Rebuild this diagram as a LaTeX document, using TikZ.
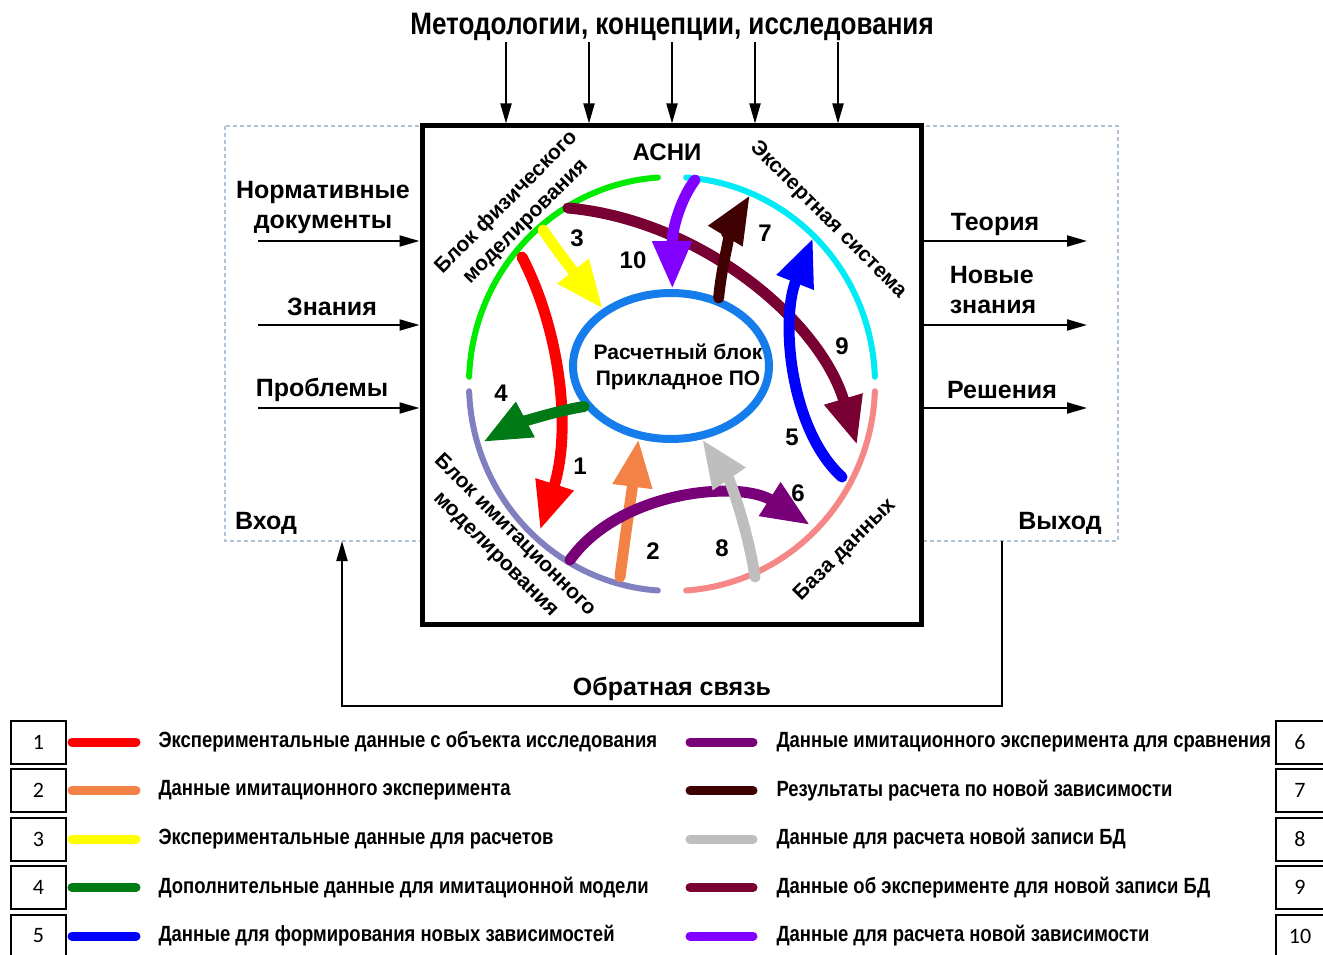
\documentclass[tikz,border=0pt]{standalone}
\usepackage{fontspec}
\setmainfont{Liberation Sans}
\newfontfamily\narrowfont[FakeStretch=0.84]{Liberation Sans}
\newfontfamily\boxfont{Carlito}
\usepackage{xcolor}
\usepackage{tikz}
\usetikzlibrary{arrows.meta,shapes.geometric}

\definecolor{c1}{RGB}{255,0,0}
\definecolor{c2}{RGB}{242,130,70}
\definecolor{c3}{RGB}{255,255,0}
\definecolor{c4}{RGB}{0,122,20}
\definecolor{c5}{RGB}{0,0,255}
\definecolor{c6}{RGB}{120,0,120}
\definecolor{c7}{RGB}{62,0,0}
\definecolor{c8}{RGB}{190,190,190}
\definecolor{c9}{RGB}{120,0,50}
\definecolor{c10}{RGB}{130,0,255}
\definecolor{phys}{RGB}{0,235,0}
\definecolor{expert}{RGB}{0,235,245}
\definecolor{imit}{RGB}{128,128,192}
\definecolor{bd}{RGB}{245,135,135}
\definecolor{calcblue}{RGB}{20,125,235}
\definecolor{frame}{RGB}{175,195,215}

\begin{document}
\begin{tikzpicture}[x=1pt,y=-1pt,
    flow/.style={line width=11pt,line cap=round,-{Triangle[length=48pt,width=37pt]}},
    ring/.style={line width=6pt,line cap=round},
    io/.style={line width=2pt,-{Triangle[length=20pt,width=11pt]}},
    lbl/.style={font=\fontsize{25}{30}\selectfont\bfseries,align=center},
    rotlbl/.style={font=\fontsize{21}{27}\selectfont\bfseries,align=center},
    num/.style={font=\fontsize{24}{28}\selectfont\bfseries},
    legbox/.style={draw,line width=2pt,minimum width=55pt,minimum height=43pt,inner sep=0pt,
        font=\boxfont\fontsize{22}{26}\selectfont},
    legtext/.style={anchor=west,font=\narrowfont\fontsize{22}{26}\selectfont\bfseries},
    legbar/.style={line width=9pt,line cap=round}]

\useasboundingbox (0,0) rectangle (1323,955);

\draw[frame,line width=1.5pt,dash pattern=on 4pt off 3pt] (225,126) rectangle (1118,541);
\node[draw,fill=white,line width=5pt,minimum width=499pt,minimum height=498pt] (box) at (671.5,375) {};

\node[font=\narrowfont\fontsize{31}{36}\selectfont\bfseries] (method) at (672,27)
    {Методологии, концепции, исследования};
\foreach \x [count=\i] in {506,589,672,755,838} {
    \coordinate (m\i) at (\x,42);
    \draw[io] (m\i) -- (m\i |- box.north);
}

\foreach \y [count=\i] in {241,325,408} {
    \coordinate (in\i) at (258,\y);
    \coordinate (out\i) at (1087,\y);
    \draw[io] (in\i) -- (in\i -| box.west);
    \draw[io] (out\i -| box.east) -- (out\i);
}
\node[lbl] (normdoc) at (323,207) {Нормативные\\документы};
\node[lbl] (know) at (332,307) {Знания};
\node[lbl] (probl) at (322,390) {Проблемы};
\node[lbl] (theory) at (995,224) {Теория};
\node[lbl,align=left] (newknow) at (993,290) {Новые\\знания};
\node[lbl] (solve) at (1002,390) {Решения};
\node[lbl] (vhod) at (266,523) {Вход};
\node[lbl] (vyhod) at (1060,523) {Выход};

\coordinate (fbout) at (1002,541);
\coordinate (fbturn) at (1002,706);
\coordinate (fbin) at (342,541);
\draw[io] (fbout) -- (fbturn) -| (fbin);
\node[lbl] (feedback) at (672,689) {Обратная связь};

% ring
\coordinate (c) at (672,384);
\draw[ring,phys] (c) ++(182:203 and 207) arc[start angle=182,end angle=266,x radius=203,y radius=207];
\draw[ring,expert] (c) ++(274:203 and 207) arc[start angle=274,end angle=358,x radius=203,y radius=207];
\draw[ring,imit] (c) ++(178:203 and 207) arc[start angle=178,end angle=94,x radius=203,y radius=207];
\draw[ring,bd] (c) ++(86:203 and 207) arc[start angle=86,end angle=2,x radius=203,y radius=207];

\node[lbl,font=\fontsize{24}{28}\selectfont\bfseries] (asni) at (667,152) {АСНИ};
\node[rotlbl,rotate=45] (physlbl) at (516,212) {Блок физического\\моделирования};
\node[rotlbl,rotate=-45] (explbl) at (828,220) {Экспертная система};
\node[rotlbl,rotate=-45] (imitlbl) at (505,545) {Блок имитационного\\моделирования};
\node[rotlbl,rotate=45] (bdlbl) at (845,550) {База данных};

\node[ellipse,draw=calcblue,line width=8pt,minimum width=196pt,minimum height=146pt,inner sep=0pt]
    (calc) at (671,366) {};
\node[font=\fontsize{21}{26}\selectfont\bfseries,align=center] (calctxt) at (678,367)
    {Расчетный блок\\Прикладное ПО};

% flows
\coordinate (p1) at (522,257);  \coordinate (q1) at (540,530);
\coordinate (p2) at (620,577);
\coordinate (p3) at (543,230);
\coordinate (q4) at (483,442);
\coordinate (p5) at (842,477);  \coordinate (q5) at (813,238);
\coordinate (p6) at (570,560);  \coordinate (q6) at (810,525);
\coordinate (q7) at (750,195);
\coordinate (p8) at (755,577);
\coordinate (p9) at (568,208);  \coordinate (q9) at (857,445);
\coordinate (p10) at (695,180);

\draw[flow,c9] (p9) .. controls (700,220) and (820,320) .. (q9);
\draw[flow,c1] (p1) .. controls (560,330) and (572,430) .. (q1);
\draw[flow,c2] (p2) .. controls (626,530) and (632,490) .. (calc.246);
\draw[flow,c3] (p3) .. controls (560,255) and (580,280) .. (calc.140);
\draw[flow,c4] (calc.205) .. controls (550,412) and (515,425) .. (q4);
\draw[flow,c5] (p5) .. controls (790,430) and (780,320) .. (q5);
\draw[flow,c6] (p6) .. controls (620,490) and (740,480) .. (q6);
\draw[flow,c7] (calc.55) .. controls (722,260) and (735,220) .. (q7);
\draw[flow,c8] (p8) .. controls (748,530) and (730,480) .. (calc.293);
\draw[flow,c10] (p10) .. controls (680,200) and (672,230) .. (calc.89);

\node[num] (n1) at (580,466) {1};
\node[num] (n2) at (653,551) {2};
\node[num] (n3) at (577,238) {3};
\node[num] (n4) at (501,393) {4};
\node[num] (n5) at (792,437) {5};
\node[num] (n6) at (798,493) {6};
\node[num] (n7) at (765,233) {7};
\node[num] (n8) at (722,548) {8};
\node[num] (n9) at (842,346) {9};
\node[num] (n10) at (633,260) {10};

% legend
\foreach \i/\col/\txt [evaluate=\i as \y using {742+48.5*(\i-1)}] in {
    1/c1/{Экспериментальные данные с объекта исследования},
    2/c2/{Данные имитационного эксперимента},
    3/c3/{Экспериментальные данные для расчетов},
    4/c4/{Дополнительные данные для имитационной модели},
    5/c5/{Данные для формирования новых зависимостей}} {
    \node[legbox] (lb\i) at (38.5,\y) {\i};
    \draw[legbar,\col] (72,\y) -- (136,\y);
    \node[legtext] (lt\i) at (155,\y) {\txt};
}
\foreach \i/\col/\txt [evaluate=\i as \y using {742+48.5*(\i-6)}] in {
    6/c6/{Данные имитационного эксперимента для сравнения},
    7/c7/{Результаты расчета по новой зависимости},
    8/c8/{Данные для расчета новой записи БД},
    9/c9/{Данные об эксперименте для новой записи БД},
    10/c10/{Данные для расчета новой зависимости}} {
    \node[legbox,minimum width=48pt] (lb\i) at (1300,\y) {\i};
    \draw[legbar,\col] (690,\y) -- (753,\y);
    \node[legtext] (lt\i) at (773,\y) {\txt};
}

\end{tikzpicture}
\end{document}
